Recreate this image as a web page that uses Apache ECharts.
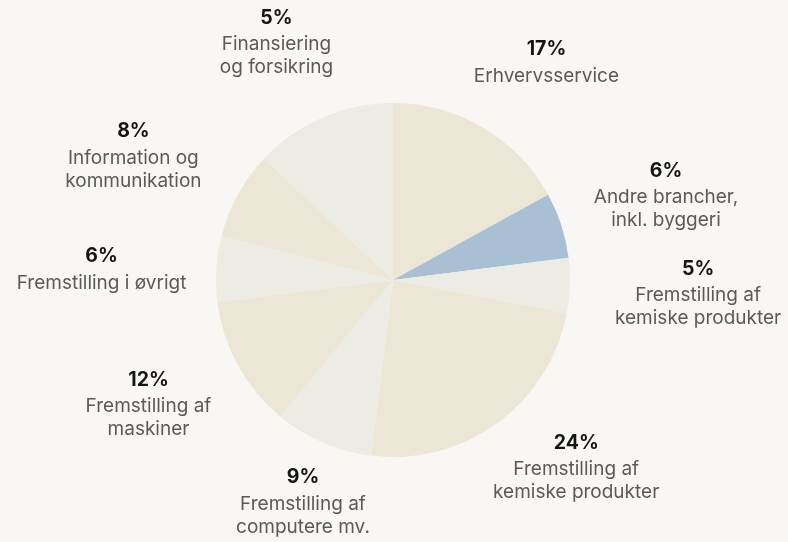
<!DOCTYPE html>
<html>
<head>
<meta charset="utf-8">
<script src="https://cdn.jsdelivr.net/npm/echarts@6/dist/echarts.min.js"></script>
<style>
html,body{margin:0;padding:0;background:#f8f7f3;}
#c{width:788px;height:542px;}
</style>
</head>
<body>
<div id="c"></div>
<script>
const categories = ["Erhvervsservice", "Andre brancher,\ninkl. byggeri", "Fremstilling af\nkemiske produkter", "Fremstilling af\nkemiske produkter", "Fremstilling af\ncomputere mv.", "Fremstilling af\nmaskiner", "Fremstilling i øvrigt", "Information og\nkommunikation", "Finansiering\nog forsikring"];
const values = [17, 6, 5, 24, 9, 12, 6, 8, 13];
const valueLabels = ["17%", "6%", "5%", "24%", "9%", "12%", "6%", "8%", "5%"];
const colors = ["#ece6d6", "#a8bfd4", "#ecebe4", "#ece6d6", "#ecebe4", "#ece6d6", "#ecebe4", "#ece6d6", "#ecebe4"];

// layout / style settings (label placement nudges)
const CX = 393, CY = 280, R = 177, GAP = 203;
const gapNudge = [4, 4, 18, -25, -22, -1, 3, 9, 7];
const angleNudgeDeg = [4.4, 0.5, 0.4, -8.6, -1.2, 2.1, -1.2, -3.0, -2.6];

const total = values.reduce((a, b) => a + b, 0);
const midAngles = [];
let acc = 0;
values.forEach(v => { midAngles.push((acc + v / 2) / total * 2 * Math.PI); acc += v; });

const chart = echarts.init(document.getElementById('c'));
chart.setOption({
  backgroundColor: '#f8f7f3',
  animation: false,
  series: [{
    type: 'pie',
    center: [CX, CY],
    radius: [0, R],
    startAngle: 90,
    clockwise: true,
    avoidLabelOverlap: false,
    data: categories.map((c, i) => ({ name: c, value: values[i], itemStyle: { color: colors[i] } })),
    itemStyle: { borderWidth: 0 },
    label: {
      show: true,
      position: 'outside',
      formatter: p => '{p|' + valueLabels[p.dataIndex] + '}\n' + p.name.split('\n').map(s => '{n|' + s + '}').join('\n'),
      rich: {
        p: { fontFamily: 'Inter', fontWeight: 'bold', fontSize: 19.5, color: '#151515', lineHeight: 30, align: 'center' },
        n: { fontFamily: 'Inter', fontSize: 19, color: '#5a5a5a', lineHeight: 23, align: 'center' }
      }
    },
    labelLine: { show: false },
    labelLayout: function (params) {
      const i = params.dataIndex;
      const a = midAngles[i] + angleNudgeDeg[i] * Math.PI / 180;
      const s = Math.sin(a), c = Math.cos(a);
      const hw = params.labelRect.width / 2, hh = params.labelRect.height / 2;
      const d = GAP + gapNudge[i] + hw * Math.abs(s) + hh * Math.abs(c);
      return { x: CX + d * s, y: CY - d * c, align: 'center', verticalAlign: 'middle' };
    },
    emphasis: { disabled: true }
  }]
});
</script>
</body>
</html>
